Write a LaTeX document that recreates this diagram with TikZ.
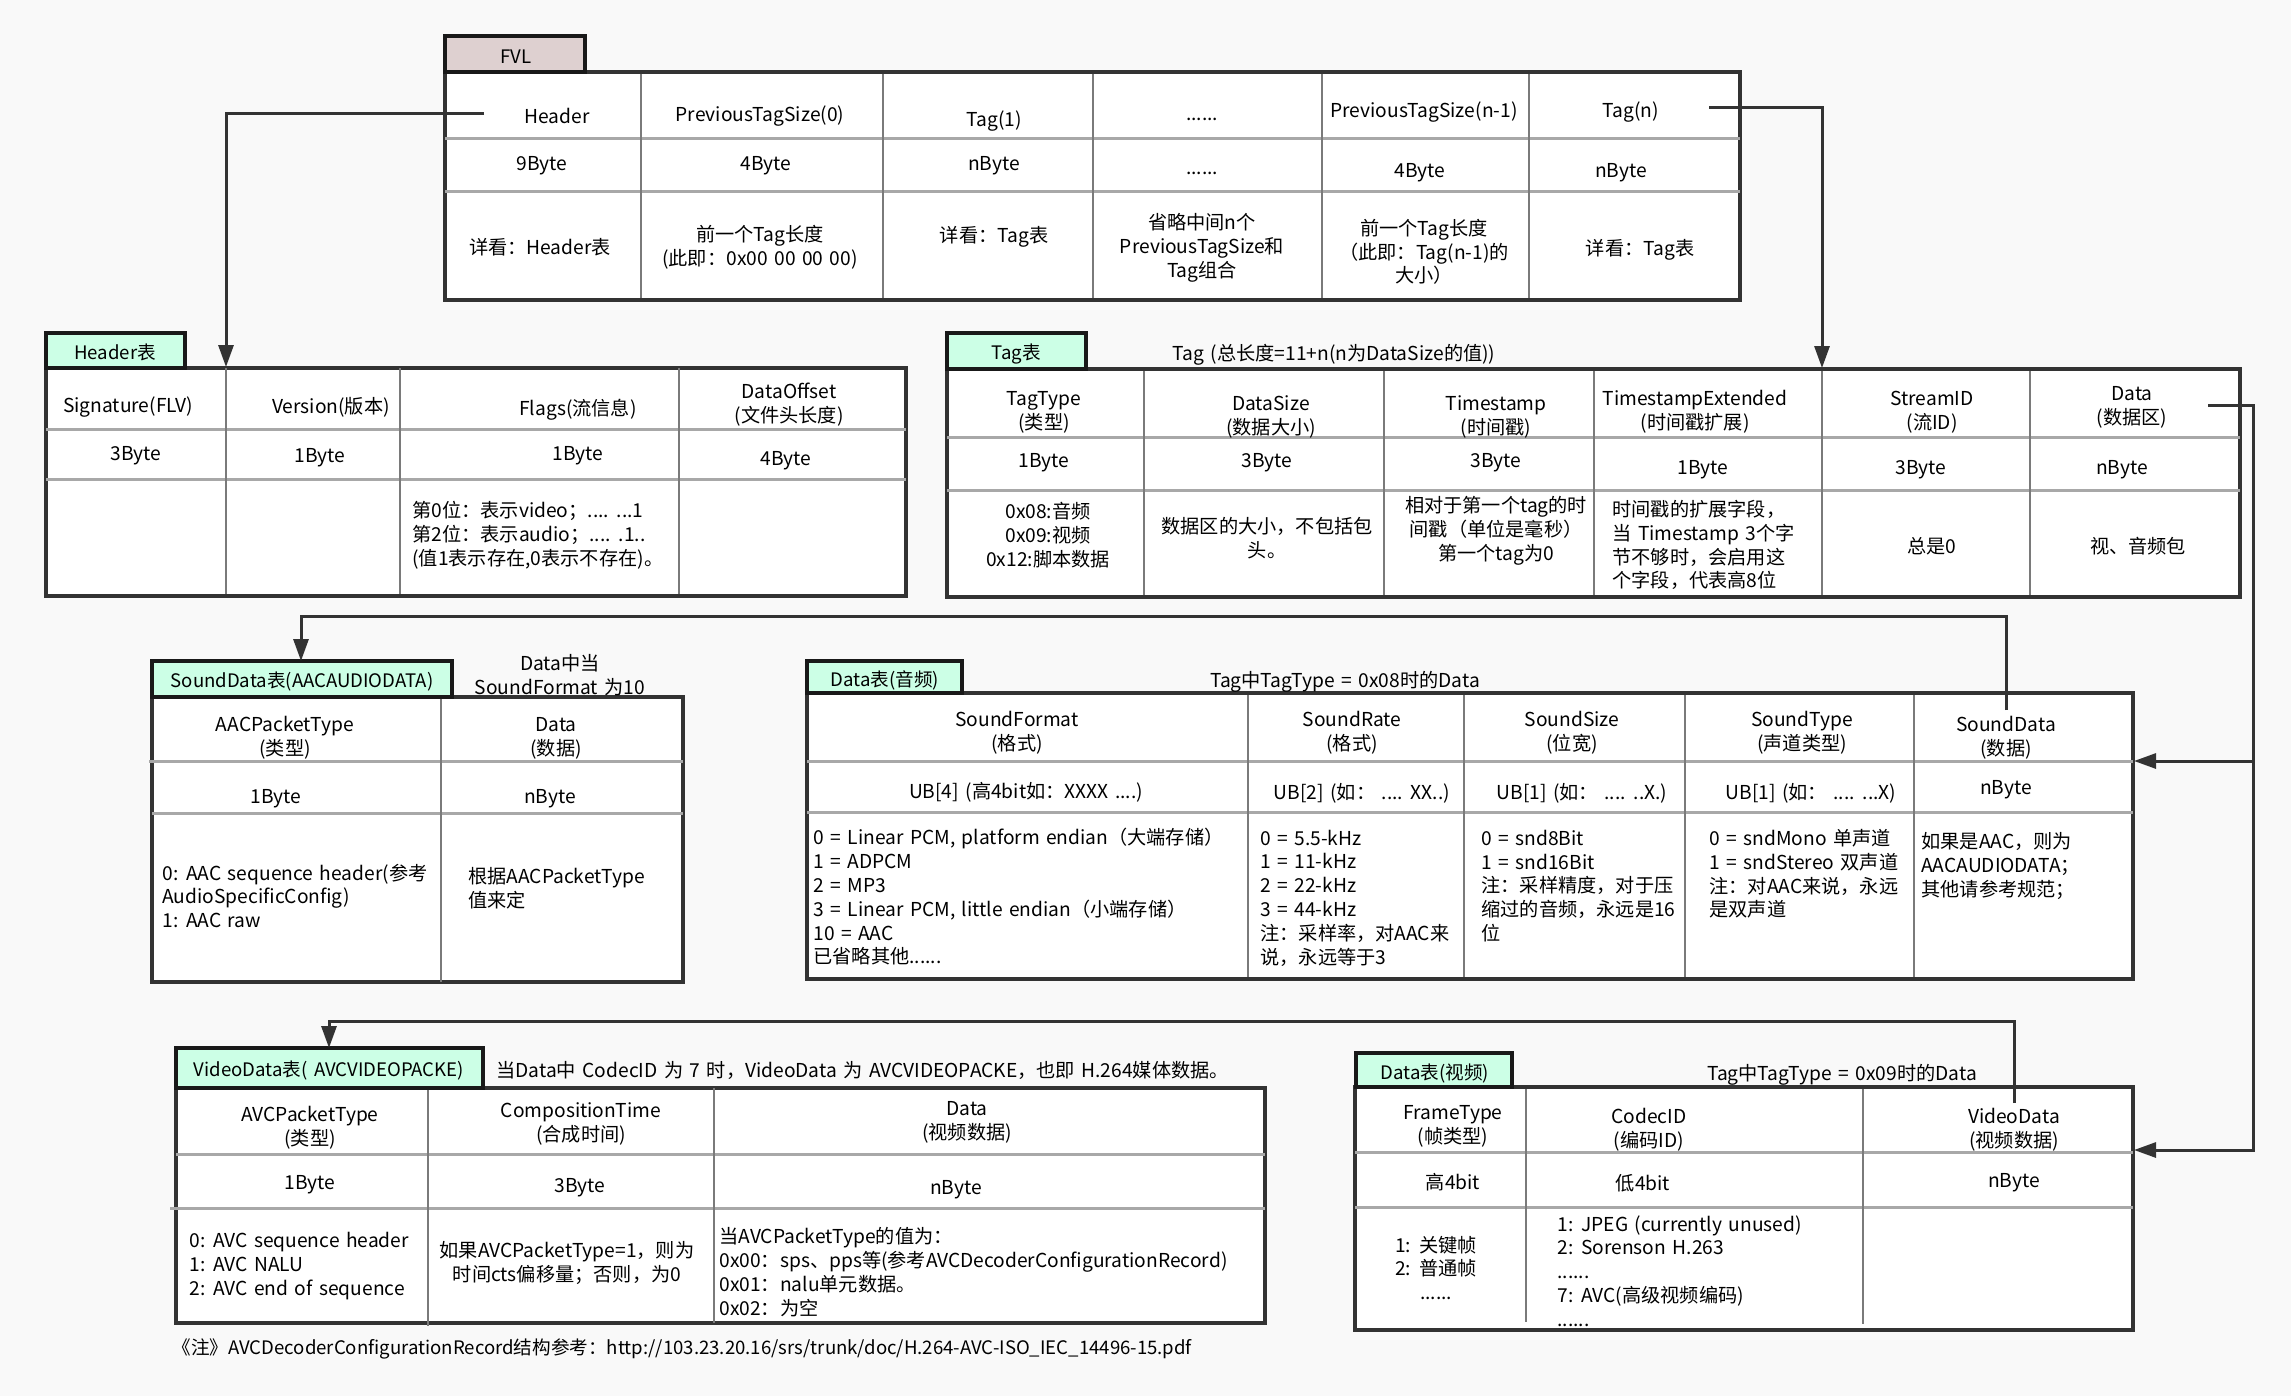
\documentclass[tikz,border=0pt]{standalone}
\usepackage{fontspec}
\setmainfont[WordSpace=1.5]{Noto Sans CJK SC}
\usetikzlibrary{arrows.meta}
\definecolor{bgc}{HTML}{F9F9F9}
\definecolor{edgec}{HTML}{333333}
\definecolor{rowc}{HTML}{A8A8A8}
\definecolor{colc}{HTML}{7A7A7A}
\definecolor{mint}{HTML}{CCFFE6}
\definecolor{rose}{HTML}{DED0D0}
\newcommand{\cellfont}{\fontsize{9.6pt}{11.9pt}\selectfont}
\newcommand{\tabfont}{\fontsize{9.3pt}{11.9pt}\selectfont}
\tikzset{
  tbl/.style={draw=edgec, line width=1.8pt, fill=white},
  tabbox/.style={draw=black!90, line width=1.8pt, fill=mint},
  rowsep/.style={draw=rowc, line width=1.5pt},
  colsep/.style={draw=colc, line width=0.9pt},
  txt/.style={inner sep=0pt, align=center, font=\cellfont, text height=8.4pt, text depth=1.15pt},
  tabtxt/.style={txt, font=\tabfont},
  mtxt/.style={inner sep=0pt, align=center, font=\cellfont},
  lmtxt/.style={mtxt, align=left, anchor=west},
  link/.style={draw=edgec, line width=1.5pt, -{Triangle[length=11pt,width=7.5pt]}},
}
\begin{document}
\begin{tikzpicture}[x=0.5pt,y=-0.5pt]
\useasboundingbox (0,0) rectangle (2291,1396);
\fill[bgc] (0,0) rectangle (2291,1396);

% ---------------- FVL ----------------
\draw[tbl] (445,72) rectangle (1740,300);
\draw[rowsep] (445,139) -- (1740,139);
\draw[rowsep] (445,192) -- (1740,192);
\foreach \cx in {641,883,1093,1322,1529} \draw[colsep] (\cx,74) -- (\cx,298);
\draw[tabbox, fill=rose] (445,36) rectangle (585,72);
\node[tabtxt] (fvlTab) at (516,56) {FVL};
\node[txt] (fvlHeader) at (557,116) {Header};
\node[txt] (fvlPrev0) at (760,114) {PreviousTagSize(0)};
\node[txt] (fvlTag1) at (994,119) {Tag(1)};
\node[txt] (fvlDots) at (1202,113) {......};
\node[txt] (fvlPrevN) at (1424,110) {PreviousTagSize(n-1)};
\node[txt] (fvlTagN) at (1631,110) {Tag(n)};
\node[txt] (fvlB1) at (542,163) {9Byte};
\node[txt] (fvlB2) at (766,163) {4Byte};
\node[txt] (fvlB3) at (994,163) {nByte};
\node[txt] (fvlB4) at (1202,167) {......};
\node[txt] (fvlB5) at (1420,170) {4Byte};
\node[txt] (fvlB6) at (1621,170) {nByte};
\node[txt] (fvlD1) at (540,247) {详看：Header表};
\node[mtxt] (fvlD2) at (760,247) {前一个Tag长度\\(此即：0x00 00 00 00)};
\node[txt] (fvlD3) at (994,235) {详看：Tag表};
\node[mtxt] (fvlD4) at (1202,248) {省略中间n个\\PreviousTagSize和\\Tag组合};
\node[mtxt] (fvlD5) at (1424,252) {前一个Tag长度\\（此即：Tag(n-1)的\\大小）};
\node[txt] (fvlD6) at (1640,248) {详看：Tag表};

% ---------------- Header table ----------------
\draw[tbl] (46,368) rectangle (906,596);
\draw[rowsep] (46,429) -- (906,429);
\draw[rowsep] (46,479) -- (906,479);
\foreach \cx in {226,400,679} \draw[colsep] (\cx,368) -- (\cx,594);
\draw[tabbox] (46,333) rectangle (185,368);
\node[tabtxt] (hdrTab) at (115,352) {Header表};
\node[txt] (hdrSig) at (128,405) {Signature(FLV)};
\node[txt] (hdrVer) at (331,406) {Version(版本)};
\node[txt] (hdrFlags) at (578,408) {Flags(流信息)};
\node[mtxt] (hdrOff) at (789,405) {DataOffset\\(文件头长度)};
\node[txt] (hdrB1) at (136,453) {3Byte};
\node[txt] (hdrB2) at (320,455) {1Byte};
\node[txt] (hdrB3) at (578,453) {1Byte};
\node[txt] (hdrB4) at (786,458) {4Byte};
\node[lmtxt] (hdrFlagsD) at (412,535) {第0位：表示video；.... ...1\\第2位：表示audio；.... .1..\\(值1表示存在,0表示不存在)。};

% ---------------- Tag table ----------------
\draw[tbl] (947,369) rectangle (2240,597);
\draw[rowsep] (947,437) -- (2240,437);
\draw[rowsep] (947,490) -- (2240,490);
\foreach \cx in {1144,1384,1594,1822,2030} \draw[colsep] (\cx,371) -- (\cx,595);
\draw[tabbox] (947,333) rectangle (1086,369);
\node[tabtxt] (tagTab) at (1016,352) {Tag表};
\node[txt] (tagTitle) at (1334,353) {Tag (总长度=11+n(n为DataSize的值))};
\node[mtxt] (tagH1) at (1044,412) {TagType\\(类型)};
\node[mtxt] (tagH2) at (1271,417) {DataSize\\(数据大小)};
\node[mtxt] (tagH3) at (1496,417) {Timestamp\\(时间戳)};
\node[mtxt] (tagH4) at (1695,412) {TimestampExtended\\(时间戳扩展)};
\node[mtxt] (tagH5) at (1932,412) {StreamID\\(流ID)};
\node[mtxt] (tagH6) at (2132,407) {Data\\(数据区)};
\node[txt] (tagB1) at (1044,460) {1Byte};
\node[txt] (tagB2) at (1267,460) {3Byte};
\node[txt] (tagB3) at (1496,460) {3Byte};
\node[txt] (tagB4) at (1703,467) {1Byte};
\node[txt] (tagB5) at (1921,467) {3Byte};
\node[txt] (tagB6) at (2122,467) {nByte};
\node[mtxt] (tagD1) at (1048,535) {0x08:音频\\0x09:视频\\0x12:脚本数据};
\node[mtxt] (tagD2) at (1267,538) {数据区的大小，不包括包\\头。};
\node[mtxt] (tagD3) at (1496,531) {相对于第一个tag的时\\间戳（单位是毫秒）\\第一个tag为0};
\node[lmtxt] (tagD4) at (1612,545) {时间戳的扩展字段，\\当 Timestamp 3个字\\节不够时，会启用这\\个字段，代表高8位};
\node[txt] (tagD5) at (1932,546) {总是0};
\node[txt] (tagD6) at (2138,546) {视、音频包};

% ---------------- SoundData (AAC) ----------------
\draw[tbl] (152,697) rectangle (683,982);
\draw[rowsep] (149,761) -- (683,761);
\draw[rowsep] (152,813) -- (683,813);
\draw[colsep] (441,697) -- (441,982);
\draw[tabbox] (152,661) rectangle (452,697);
\node[tabtxt] (sdTab) at (302,680) {SoundData表(AACAUDIODATA)};
\node[mtxt] (sdTitle) at (560,675) {Data中当\\SoundFormat 为10};
\node[mtxt] (sdH1) at (285,738) {AACPacketType\\(类型)};
\node[mtxt] (sdH2) at (556,738) {Data\\(数据)};
\node[txt] (sdB1) at (276,796) {1Byte};
\node[txt] (sdB2) at (550,796) {nByte};
\node[lmtxt] (sdD1) at (162,896) {0: AAC sequence header(参考\\AudioSpecificConfig)\\1: AAC raw};
\node[lmtxt] (sdD2) at (468,888) {根据AACPacketType\\值来定};

% ---------------- Data (audio) ----------------
\draw[tbl] (807,693) rectangle (2133,979);
\draw[rowsep] (807,761) -- (2133,761);
\draw[rowsep] (807,812) -- (2133,812);
\foreach \cx in {1248,1464,1685,1914} \draw[colsep] (\cx,695) -- (\cx,977);
\draw[tabbox] (807,661) rectangle (962,693);
\node[tabtxt] (auTab) at (885,679) {Data表(音频)};
\node[txt] (auTitle) at (1345,680) {Tag中TagType = 0x08时的Data};
\node[mtxt] (auH1) at (1017,733) {SoundFormat\\(格式)};
\node[mtxt] (auH2) at (1352,733) {SoundRate\\(格式)};
\node[mtxt] (auH3) at (1572,733) {SoundSize\\(位宽)};
\node[mtxt] (auH4) at (1802,733) {SoundType\\(声道类型)};
\node[mtxt] (auH5) at (2006,738) {SoundData\\(数据)};
\node[txt] (auB1) at (1026,791) {UB[4] (高4bit如：XXXX ....)};
\node[txt] (auB2) at (1362,792) {UB[2] (如： .... XX..)};
\node[txt] (auB3) at (1582,792) {UB[1] (如： .... ..X.)};
\node[txt] (auB4) at (1811,792) {UB[1] (如： .... ...X)};
\node[txt] (auB5) at (2006,787) {nByte};
\node[lmtxt] (auD1) at (813,897) {0 = Linear PCM, platform endian（大端存储）\\1 = ADPCM\\2 = MP3\\3 = Linear PCM, little endian（小端存储）\\10 = AAC\\已省略其他......};
\node[lmtxt] (auD2) at (1260,898) {0 = 5.5-kHz\\1 = 11-kHz\\2 = 22-kHz\\3 = 44-kHz\\注：采样率，对AAC来\\说，永远等于3};
\node[lmtxt] (auD3) at (1481,886) {0 = snd8Bit\\1 = snd16Bit\\注：采样精度，对于压\\缩过的音频，永远是16\\位};
\node[lmtxt] (auD4) at (1709,874) {0 = sndMono 单声道\\1 = sndStereo 双声道\\注：对AAC来说，永远\\是双声道};
\node[lmtxt] (auD5) at (1921,866) {如果是AAC，则为\\AACAUDIODATA；\\其他请参考规范；};

% ---------------- VideoData (AVC) ----------------
\draw[tbl] (176,1088) rectangle (1265,1323);
\draw[rowsep] (176,1154) -- (1265,1154);
\draw[rowsep] (170,1208) -- (1265,1208);
\draw[colsep] (428,1088) -- (428,1326);
\draw[colsep] (714,1088) -- (714,1323);
\draw[tabbox] (176,1048) rectangle (483,1088);
\node[tabtxt] (vdTab) at (329,1069) {VideoData表( AVCVIDEOPACKE)};
\node[txt, anchor=west] (vdTitle) at (496,1070) {当Data中 CodecID 为 7 时，VideoData 为 AVCVIDEOPACKE，也即 H.264媒体数据。};
\node[mtxt] (vdH1) at (310,1128) {AVCPacketType\\(类型)};
\node[mtxt] (vdH2) at (581,1124) {CompositionTime\\(合成时间)};
\node[mtxt] (vdH3) at (967,1122) {Data\\(视频数据)};
\node[txt] (vdB1) at (310,1182) {1Byte};
\node[txt] (vdB2) at (580,1185) {3Byte};
\node[txt] (vdB3) at (956,1187) {nByte};
\node[lmtxt] (vdD1) at (189,1266) {0: AVC sequence header\\1: AVC NALU\\2: AVC end of sequence};
\node[mtxt] (vdD2) at (567,1263) {如果AVCPacketType=1，则为\\时间cts偏移量；否则，为0};
\node[lmtxt] (vdD3) at (719,1272) {当AVCPacketType的值为：\\0x00：sps、pps等(参考AVCDecoderConfigurationRecord)\\0x01：nalu单元数据。\\0x02：为空};
\node[txt, font=\tabfont, anchor=west] (vdNote) at (172,1347) {《注》AVCDecoderConfigurationRecord结构参考：http://103.23.20.16/srs/trunk/doc/H.264-AVC-ISO\_IEC\_14496-15.pdf};

% ---------------- Data (video) ----------------
\draw[tbl] (1355,1087) rectangle (2133,1330);
\draw[rowsep] (1355,1152) -- (2133,1152);
\draw[rowsep] (1355,1207) -- (2133,1207);
\draw[colsep] (1526,1089) -- (1526,1322);
\draw[colsep] (1863,1089) -- (1863,1324);
\draw[tabbox] (1356,1053) rectangle (1512,1087);
\node[tabtxt] (viTab) at (1435,1072) {Data表(视频)};
\node[txt] (viTitle) at (1842,1073) {Tag中TagType = 0x09时的Data};
\node[mtxt] (viH1) at (1453,1126) {FrameType\\(帧类型)};
\node[mtxt] (viH2) at (1649,1130) {CodecID\\(编码ID)};
\node[mtxt] (viH3) at (2014,1130) {VideoData\\(视频数据)};
\node[txt] (viB1) at (1453,1182) {高4bit};
\node[txt] (viB2) at (1643,1183) {低4bit};
\node[txt] (viB3) at (2014,1180) {nByte};
\node[mtxt] (viD1) at (1436,1268) {1: 关键帧\\2: 普通帧\\......};
\node[lmtxt] (viD2) at (1557,1271) {1: JPEG (currently unused)\\2: Sorenson H.263\\......\\7: AVC(高级视频编码)\\......};

% ---------------- connectors ----------------
\coordinate (hdrTail) at (484,114);
\coordinate (hdrTip) at (226,367);
\coordinate (tagTail) at (1709,108);
\coordinate (tagTip) at (1822,368);
\coordinate (dataTail) at (2208,405);
\coordinate (busTop) at (2253,405);
\coordinate (busMid) at (2253,761);
\coordinate (audioTip) at (2134,761);
\coordinate (videoTip) at (2134,1150);
\coordinate (sndTail) at (2006,710);
\coordinate (sndTip) at (301,661);
\coordinate (vidTail) at (2014,1103);
\coordinate (vidTip) at (329,1048);

\draw[link] (hdrTail) -| (hdrTip);
\draw[link] (tagTail) -| (tagTip);
\draw[link] (dataTail) -- (busTop) |- (videoTip);
\draw[link] (busMid) -- (audioTip);
\draw[link] (sndTail) -- (sndTail |- 0,616) -| (sndTip);
\draw[link] (vidTail) -- (vidTail |- 0,1021) -| (vidTip);
\end{tikzpicture}
\end{document}
